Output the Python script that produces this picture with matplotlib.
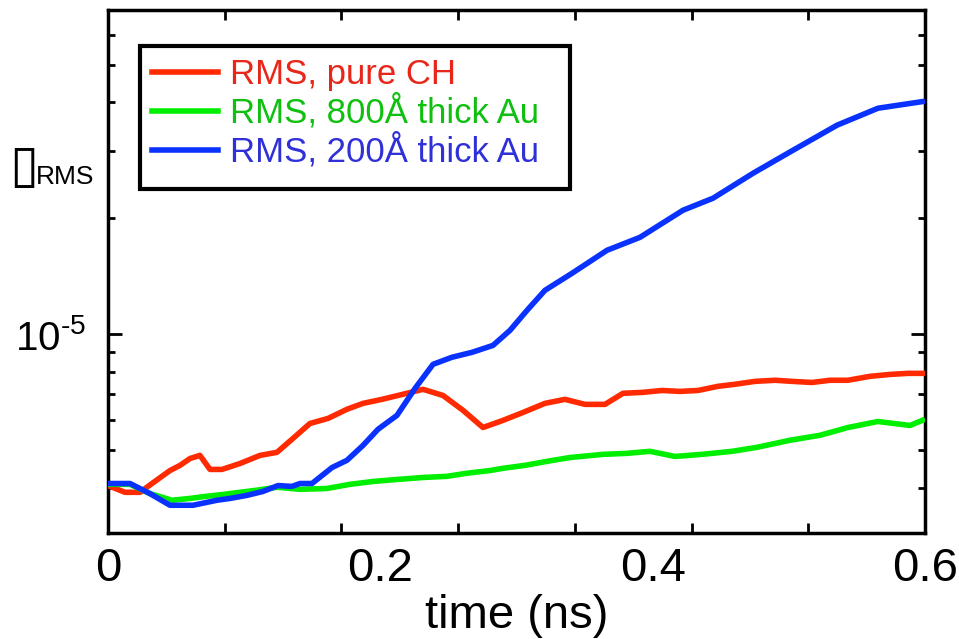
import matplotlib
matplotlib.use("Agg")
import matplotlib.pyplot as plt
from matplotlib.lines import Line2D
from matplotlib.patches import Rectangle
from matplotlib.ticker import FixedLocator, NullFormatter, FixedFormatter

plt.rcParams['font.family'] = ['Liberation Sans', 'DejaVu Sans']
plt.rcParams['mathtext.fontset'] = 'custom'
plt.rcParams['mathtext.rm'] = 'Liberation Sans'
plt.rcParams['mathtext.it'] = 'Liberation Sans:italic'

# ---- data (time in ns, value in units of 1e-6) ----
t_ch = [0, 0.0125, 0.0235, 0.0323, 0.0455, 0.0529, 0.0602, 0.0675, 0.0749, 0.0837,
        0.0969, 0.1116, 0.1241, 0.1359, 0.1483, 0.1616, 0.1755, 0.1873, 0.2012, 0.2159,
        0.2313, 0.2460, 0.2607, 0.2754, 0.2901, 0.3048, 0.3209, 0.3356, 0.3503, 0.3650,
        0.3782, 0.3929, 0.4069, 0.4201, 0.4333, 0.4480, 0.4605, 0.4752, 0.4899, 0.5023,
        0.5170, 0.5302, 0.5434, 0.5596, 0.5743, 0.5875, 0.6]
v_ch = [4.05, 3.89, 3.89, 4.10, 4.43, 4.57, 4.76, 4.85, 4.46, 4.46,
        4.62, 4.85, 4.94, 5.37, 5.87, 6.05, 6.39, 6.62, 6.78, 6.98,
        7.20, 6.94, 6.35, 5.73, 5.98, 6.27, 6.62, 6.78, 6.58, 6.58,
        7.03, 7.07, 7.15, 7.11, 7.15, 7.33, 7.42, 7.55, 7.60, 7.55,
        7.50, 7.60, 7.60, 7.78, 7.87, 7.92, 7.92]

t_800 = [0, 0.0162, 0.0308, 0.0470, 0.0602, 0.0727, 0.0845, 0.0969, 0.1094, 0.1241,
         0.1410, 0.1608, 0.1777, 0.1946, 0.2122, 0.2313, 0.2490, 0.2636, 0.2805, 0.2901,
         0.3062, 0.3224, 0.3393, 0.3635, 0.3811, 0.3980, 0.4164, 0.4362, 0.4583, 0.4766,
         0.5009, 0.5229, 0.5434, 0.5655, 0.5890, 0.6]
v_800 = [4.08, 4.08, 3.86, 3.71, 3.75, 3.80, 3.84, 3.89, 3.94, 4.01,
         3.96, 3.98, 4.08, 4.15, 4.20, 4.25, 4.28, 4.36, 4.43, 4.49,
         4.57, 4.68, 4.79, 4.88, 4.91, 4.97, 4.82, 4.88, 4.97, 5.09,
         5.31, 5.47, 5.73, 5.94, 5.80, 6.02]

t_200 = [0, 0.0162, 0.0308, 0.0455, 0.0624, 0.0801, 0.0896, 0.1021, 0.1138, 0.1248,
         0.1351, 0.1410, 0.1498, 0.1645, 0.1755, 0.1873, 0.1983, 0.2122, 0.2255, 0.2387,
         0.2526, 0.2673, 0.2827, 0.2952, 0.3077, 0.3209, 0.3407, 0.3665, 0.3907, 0.4223,
         0.4443, 0.4737, 0.5031, 0.5354, 0.5655, 0.6]
v_200 = [4.10, 4.10, 3.86, 3.60, 3.60, 3.71, 3.75, 3.82, 3.91, 4.05,
         4.03, 4.10, 4.10, 4.51, 4.71, 5.15, 5.67, 6.16, 7.24, 8.36,
         8.72, 8.98, 9.36, 10.24, 11.54, 13.01, 14.40, 16.53, 17.86, 21.0,
         22.56, 26.19, 30.06, 34.91, 38.64, 40.29]

labels = ["RMS, pure CH", "RMS, 800Å thick Au", "RMS, 200Å thick Au"]
line_colors = ["#ff2a00", "#00ee00", "#0a32ff"]
text_colors = ["#e8261a", "#10c010", "#3030d8"]
x_ticks = [0, 0.2, 0.4, 0.6]
x_tick_labels = ["0", "0.2", "0.4", "0.6"]

scale = 1e-6

fig = plt.figure(figsize=(9.59, 6.39), dpi=100)
ax = fig.add_axes([108/959, 1-533/639, 817/959, 523/639])

series = [(t_ch, v_ch), (t_800, v_800), (t_200, v_200)]
for (t, v), c in zip(series, line_colors):
    ax.plot(t, [x*scale for x in v], color=c, lw=4, solid_capstyle='butt', zorder=3)

ax.set_yscale('log')
ax.set_xlim(0, 0.6)
ax.set_ylim(3.05e-6, 6.95e-5)

# x ticks: labels at 0,0.2,.. ; tick marks at 1/7 intervals
ax.xaxis.set_major_locator(FixedLocator(x_ticks))
ax.xaxis.set_major_formatter(FixedFormatter(x_tick_labels))
ax.xaxis.set_minor_locator(FixedLocator([0.6*k/7 for k in range(1, 7)]))
ax.tick_params(axis='x', which='major', length=0, labelsize=34, pad=10)
ax.tick_params(axis='x', which='minor', length=7, width=2, direction='in', top=True, bottom=True)

ax.yaxis.set_major_locator(FixedLocator([1e-5]))
ax.yaxis.set_major_formatter(FixedFormatter([r'$\mathregular{10^{\text{-}5}}$']))
ax.yaxis.set_minor_locator(FixedLocator([k*1e-6 for k in range(4, 10)] + [k*1e-5 for k in range(2, 7)]))
ax.yaxis.set_minor_formatter(NullFormatter())
ax.tick_params(axis='y', which='major', length=10, width=2, direction='in', left=True, right=True,
               labelsize=29, pad=16)
ax.tick_params(axis='y', which='minor', length=5, width=2, direction='in', left=True, right=True)

for s in ax.spines.values():
    s.set_linewidth(2.5)

ax.set_xlabel("time (ns)", fontsize=34, labelpad=2)

fig.text(9/959, 1-167/639, "\u25AF", fontsize=38, family=['DejaVu Sans'], va='center', ha='left')
fig.text(36/959, 1-177/639, "RMS", fontsize=19, va='center', ha='left')

# legend
ax.add_patch(Rectangle((32/817, (533-189)/523), 430/817, 143/523, transform=ax.transAxes,
                       facecolor='white', edgecolor='black', lw=3, zorder=4))
handles = [Line2D([], [], color=c, lw=4) for c in line_colors]
leg = ax.legend(handles, labels, loc='upper left', bbox_to_anchor=((152-108)/817, (533-58)/523),
                frameon=False, fontsize=25, handlelength=1.9, handletextpad=0.35,
                labelspacing=0.1, borderpad=0, borderaxespad=0)
leg.set_zorder(5)
for txt, c in zip(leg.get_texts(), text_colors):
    txt.set_color(c)

fig.savefig("out.png", dpi=100)
